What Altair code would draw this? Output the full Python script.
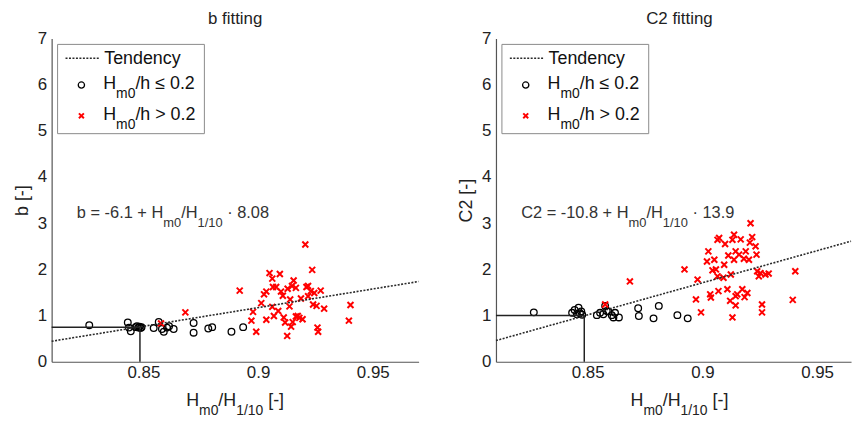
import altair as alt
import pandas as pd

# ---------------- data ----------------
b_low_x = [0.8264, 0.8432, 0.8437, 0.8445, 0.8466, 0.8472, 0.8478, 0.8483, 0.8488, 0.8492,
           0.8545, 0.8567, 0.8581, 0.8589, 0.8603, 0.8612, 0.8632, 0.8719, 0.8719, 0.8783,
           0.8800, 0.8884, 0.8935]
b_low_y = [0.79, 0.85, 0.74, 0.66, 0.75, 0.77, 0.74, 0.76, 0.73, 0.75,
           0.73, 0.86, 0.71, 0.65, 0.74, 0.77, 0.71, 0.84, 0.63, 0.72,
           0.75, 0.65, 0.75]
b_high_x = [0.8577, 0.8683, 0.8920, 0.8971, 0.8978, 0.8992, 0.9014, 0.9026, 0.9036, 0.9036,
            0.9050, 0.9062, 0.9065, 0.9079, 0.9062, 0.9069, 0.9088, 0.9095, 0.9100, 0.9108,
            0.9112, 0.9118, 0.9127, 0.9129, 0.9137, 0.9140, 0.9144, 0.9148, 0.9155, 0.9151,
            0.9165, 0.9165, 0.9173, 0.9180, 0.9187, 0.9194, 0.9206, 0.9211, 0.9218, 0.9218,
            0.9230, 0.9236, 0.9240, 0.9245, 0.9255, 0.9259, 0.9262, 0.9273, 0.9288, 0.9396,
            0.9403]
b_high_y = [0.83, 1.07, 1.54, 0.89, 1.08, 0.65, 1.27, 1.46, 1.52, 0.91,
            1.92, 1.80, 1.62, 1.62, 1.19, 0.99, 1.10, 1.90, 1.52, 1.43,
            0.96, 0.85, 0.56, 1.58, 1.20, 1.35, 0.76, 1.64, 1.76, 0.86,
            1.60, 0.98, 0.99, 0.95, 1.37, 0.92, 2.54, 1.62, 1.64, 1.42,
            1.53, 1.99, 1.24, 1.49, 1.21, 0.74, 0.65, 1.54, 1.15, 0.89,
            1.23]

c2_low_x = [0.8265, 0.8432, 0.8443, 0.8453, 0.8460, 0.8466, 0.8472, 0.8476, 0.8540, 0.8554,
            0.8568, 0.8576, 0.8583, 0.8590, 0.8605, 0.8612, 0.8619, 0.8636, 0.8720, 0.8723,
            0.8787, 0.8810, 0.8891, 0.8936]
c2_low_y = [1.07, 1.06, 1.12, 1.03, 1.17, 1.05, 1.09, 1.02, 1.01, 1.06,
            1.03, 1.21, 1.10, 1.09, 1.01, 0.96, 1.06, 0.96, 1.16, 0.99,
            0.94, 1.21, 1.01, 0.94]
c2_high_x = [0.8576, 0.8684, 0.8922, 0.8972, 0.8979, 0.8994, 0.9020, 0.9026, 0.9034, 0.9037,
             0.9044, 0.9052, 0.9059, 0.9066, 0.9073, 0.9066, 0.9070, 0.9095, 0.9099, 0.9092,
             0.9109, 0.9113, 0.9121, 0.9124, 0.9131, 0.9131, 0.9138, 0.9138, 0.9145, 0.9145,
             0.9152, 0.9160, 0.9167, 0.9174, 0.9181, 0.9184, 0.9189, 0.9196, 0.9203, 0.9207,
             0.9210, 0.9217, 0.9232, 0.9239, 0.9236, 0.9246, 0.9253, 0.9260, 0.9260, 0.9275,
             0.9289, 0.9394, 0.9405, 0.9145]
c2_high_y = [1.24, 1.74, 2.00, 1.35, 1.78, 1.07, 2.17, 2.39, 1.46, 1.39,
             1.98, 2.21, 2.00, 2.64, 2.68, 1.85, 1.53, 2.10, 2.55, 1.82,
             1.57, 2.30, 1.32, 1.89, 0.96, 2.64, 2.75, 2.21, 2.39, 1.22,
             1.46, 2.32, 2.65, 1.57, 2.23, 1.40, 2.39, 1.49, 2.21, 2.58,
             3.00, 2.70, 2.50, 1.96, 2.32, 1.85, 1.92, 1.24, 1.07, 1.89,
             1.91, 1.34, 1.96, 1.42]

# tendency lines (intercept, slope) as printed on the chart
b_coef = [-6.1, 8.08]
c2_coef = [-10.8, 13.9]
# reference guide lines (typical value)
ref_x = 0.8485
b_ref_y = 0.75
c2_ref_y = 1.0

x_ticks = [0.85, 0.9, 0.95]
y_ticks = [0, 1, 2, 3, 4, 5, 6, 7]

# rich-text pieces: (text, is_subscript)
b_eq = [("b = -6.1 + H", False), ("m0", True), ("/H", False), ("1/10", True), (" · 8.08", False)]
c2_eq = [("C2 = -10.8 + H", False), ("m0", True), ("/H", False), ("1/10", True), (" · 13.9", False)]
x_title = [("H", False), ("m0", True), ("/H", False), ("1/10", True), (" [-]", False)]
leg_low = [("H", False), ("m0", True), ("/h ≤ 0.2", False)]
leg_high = [("H", False), ("m0", True), ("/h > 0.2", False)]

FONT = "Liberation Sans"
RED = "#ff0000"
XPATH = "M-1,-1L1,1M-1,1L1,-1"
PX_PER_UNIT = 370 / 0.16
PLOT_H = 326

# Arial / Liberation Sans advance widths (per 1000 em)
ADV = {' ': 278, '+': 584, '-': 333, '.': 278, '/': 278, '=': 584, '>': 584, '≤': 549,
       '·': 278, '[': 278, ']': 278, 'C': 722, 'H': 722, 'T': 611, 'b': 556, 'c': 500,
       'd': 556, 'e': 556, 'h': 556, 'm': 833, 'n': 556, 'y': 500}


def tw(s, size):
    return sum(ADV.get(ch, 556) for ch in s) * size / 1000.0


def rich_layers(pieces, main, sub, sub_dy, xenc, yenc, data=None, center=False,
                color="#222222"):
    total = sum(tw(t, sub if s else main) for t, s in pieces)
    dx = -(total / 2.0) if center else 0.0
    src = data if data is not None else pd.DataFrame({"a": [0]})
    out = []
    for t, s in pieces:
        fs = sub if s else main
        lead = len(t) - len(t.lstrip(" "))
        dx += tw(" " * lead, fs)          # SVG collapses leading blanks
        body = t.lstrip(" ")
        out.append(alt.Chart(src).mark_text(
            align="left", baseline="alphabetic", font=FONT, fontSize=fs, color=color,
            text=body, dx=dx, dy=(sub_dy if s else 0)).encode(x=xenc, y=yenc))
        dx += tw(body, fs)
    return out


def panel(title, ylabel, lx, ly, hx, hy, coef, ref_y, width, eq_pieces, title_dx):
    xdom = [0.81, 0.81 + width / PX_PER_UNIT]
    xs = alt.Scale(domain=xdom, nice=False, zero=False)
    ys = alt.Scale(domain=[0, 7], nice=False, zero=True)
    xax = alt.Axis(values=x_ticks, format="~g", title=None, grid=False,
                   ticks=False, labelPadding=3)
    yax = alt.Axis(values=y_ticks, format="d", title=ylabel, grid=False,
                   ticks=False, labelPadding=5, titlePadding=6)

    low = pd.DataFrame({"x": lx, "y": ly})
    high = pd.DataFrame({"x": hx, "y": hy})
    tend = pd.DataFrame({"x": xdom, "y": [coef[0] + coef[1] * v for v in xdom]})
    guides = pd.DataFrame({"x": [xdom[0], ref_x], "x2": [ref_x, ref_x],
                           "y": [ref_y, 0.0], "y2": [ref_y, ref_y]})
    eq = pd.DataFrame({"x": [0.821], "y": [3.11]})
    one = pd.DataFrame({"a": [0]})

    circles = alt.Chart(low).mark_point(shape="circle", filled=False, color="black",
                                        strokeWidth=1.3, size=45, opacity=1).encode(
        x=alt.X("x:Q", scale=xs, axis=xax), y=alt.Y("y:Q", scale=ys, axis=yax))
    crosses = alt.Chart(high).mark_point(shape=XPATH, filled=False, color=RED,
                                         strokeWidth=2, size=36, opacity=1).encode(
        x=alt.X("x:Q", scale=xs), y=alt.Y("y:Q", scale=ys))
    tline = alt.Chart(tend).mark_line(color="#2a2a2a", strokeWidth=1.6,
                                      strokeDash=[2, 1.5]).encode(
        x=alt.X("x:Q", scale=xs), y=alt.Y("y:Q", scale=ys))
    glines = alt.Chart(guides).mark_rule(color="#222222", strokeWidth=1.5).encode(
        x=alt.X("x:Q", scale=xs), x2="x2:Q", y=alt.Y("y:Q", scale=ys), y2="y2:Q")

    # equation, anchored in data coordinates
    eq_layers = rich_layers(eq_pieces, 16.5, 13, 9, alt.X("x:Q", scale=xs),
                            alt.Y("y:Q", scale=ys), data=eq, color="#333333")

    # x-axis title with subscripts
    xt_layers = rich_layers(x_title, 18, 14, 9, alt.value(185), alt.value(PLOT_H + 45),
                            center=True)

    # legend box (annotation, pixel placed inside plot area)
    lbox = alt.Chart(one).mark_rect(fill="white", stroke="#8a8a8a", strokeWidth=1).encode(
        x=alt.value(6), x2=alt.value(154), y=alt.value(6), y2=alt.value(96))
    lline = alt.Chart(one).mark_rule(color="#2a2a2a", strokeWidth=1.5,
                                     strokeDash=[2, 1.5]).encode(
        x=alt.value(14), x2=alt.value(48), y=alt.value(20))
    lcirc = alt.Chart(one).mark_point(shape="circle", filled=False, color="black",
                                      strokeWidth=1.3, size=40, opacity=1).encode(
        x=alt.value(30), y=alt.value(47))
    lcross = alt.Chart(one).mark_point(shape=XPATH, filled=False, color=RED,
                                       strokeWidth=2, size=25, opacity=1).encode(
        x=alt.value(30), y=alt.value(78))
    ltexts = [alt.Chart(one).mark_text(align="left", baseline="alphabetic", font=FONT,
                                       fontSize=18, color="#111111", text="Tendency").encode(
        x=alt.value(53), y=alt.value(26))]
    ltexts += rich_layers(leg_low, 18, 14, 9, alt.value(52), alt.value(51), color="#111111")
    ltexts += rich_layers(leg_high, 18, 14, 9, alt.value(52), alt.value(82), color="#111111")

    return alt.layer(circles, crosses, tline, glines, *eq_layers, *xt_layers, lbox, lline,
                     lcirc, lcross, *ltexts).properties(
        width=width, height=PLOT_H,
        title=alt.TitleParams(title, fontSize=17, fontWeight="normal", font=FONT,
                              color="#222222", offset=2, anchor="middle", dx=title_dx))


left = panel("b fitting", "b [-]", b_low_x, b_low_y, b_high_x, b_high_y, b_coef, b_ref_y,
             370, b_eq, 0)
right = panel("C2 fitting", "C2 [-]", c2_low_x, c2_low_y, c2_high_x, c2_high_y, c2_coef,
              c2_ref_y, 358, c2_eq, 6)

chart = alt.hconcat(left, right, spacing=35).properties(
    padding={"left": 5, "top": 0, "right": 0, "bottom": 0}
).configure_view(stroke=None).configure_axis(
    domainColor="#555555", domainWidth=1.2, labelFont=FONT, labelFontSize=17,
    labelColor="#222222", titleFont=FONT, titleFontSize=18, titleFontWeight="normal",
    titleColor="#222222"
)

chart.save("out.html", embed_options={"renderer": "svg", "actions": False})
